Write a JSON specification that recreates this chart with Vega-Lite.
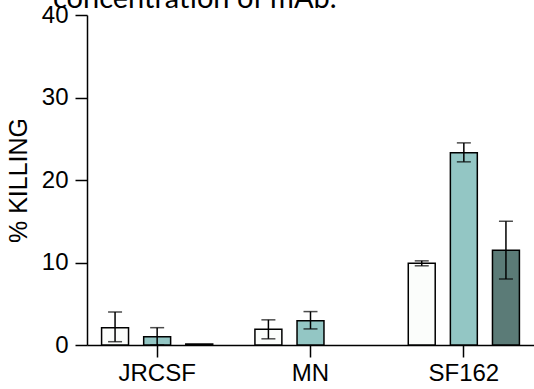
{
  "$schema": "https://vega.github.io/schema/vega-lite/v6.json",
  "autosize": {"type": "none"},
  "padding": {"left": 87, "top": 15, "right": 0, "bottom": 44},
  "width": 447,
  "height": 330,
  "background": "white",
  "title": {
    "text": "concentration of mAb.",
    "anchor": "start",
    "frame": "group",
    "font": "Lato",
    "fontSize": 29,
    "fontWeight": "normal",
    "color": "black",
    "baseline": "alphabetic",
    "offset": -25,
    "dx": -34,
    "dy": 9
  },
  "config": {
    "view": {"stroke": null},
    "axis": {
      "grid": false,
      "domainColor": "black",
      "tickColor": "black",
      "domainWidth": 1.5,
      "tickWidth": 1.5,
      "labelColor": "black",
      "titleColor": "black",
      "labelFont": "Liberation Sans",
      "titleFont": "Liberation Sans",
      "labelFontSize": 24,
      "titleFontSize": 25,
      "titleFontWeight": "normal"
    }
  },
  "data": {
    "values": [
      {"strain": "JRCSF", "conc": "c1", "value": 2.1, "lo": 0.4, "hi": 4.0},
      {"strain": "JRCSF", "conc": "c2", "value": 1.0, "lo": 0.0, "hi": 2.1},
      {"strain": "JRCSF", "conc": "c3", "value": 0.12, "lo": null, "hi": null},
      {"strain": "MN", "conc": "c1", "value": 1.9, "lo": 0.75, "hi": 3.05},
      {"strain": "MN", "conc": "c2", "value": 2.95, "lo": 1.95, "hi": 4.05},
      {"strain": "SF162", "conc": "c1", "value": 9.9, "lo": 9.6, "hi": 10.2},
      {"strain": "SF162", "conc": "c2", "value": 23.3, "lo": 22.2, "hi": 24.5},
      {"strain": "SF162", "conc": "c3", "value": 11.5, "lo": 8.0, "hi": 15.0}
    ]
  },
  "encoding": {
    "x": {
      "field": "strain",
      "type": "nominal",
      "sort": ["JRCSF", "MN", "SF162"],
      "scale": {"paddingInner": 0.2, "paddingOuter": 0.0575},
      "axis": {"title": null, "labelAngle": 0, "tickSize": 12, "labelPadding": 4, "domainWidth": 1.5}
    },
    "xOffset": {
      "field": "conc",
      "type": "nominal",
      "sort": ["c1", "c2", "c3"],
      "scale": {"paddingInner": 0.36, "paddingOuter": 0.137}
    }
  },
  "layer": [
    {
      "mark": {"type": "bar", "stroke": "black", "strokeWidth": 1.5},
      "encoding": {
        "y": {
          "field": "value",
          "type": "quantitative",
          "scale": {"domain": [0, 40], "nice": false},
          "axis": {"title": "% KILLING", "values": [0, 10, 20, 30, 40], "tickSize": 12, "labelPadding": 7, "titlePadding": 10}
        },
        "fill": {
          "field": "conc",
          "type": "nominal",
          "scale": {"domain": ["c1", "c2", "c3"], "range": ["#fbfdfb", "#93c6c4", "#5b7b77"]},
          "legend": null
        }
      }
    },
    {
      "mark": {"type": "rule", "color": "black", "strokeWidth": 1.5},
      "encoding": {
        "y": {"field": "lo", "type": "quantitative"},
        "y2": {"field": "hi"}
      }
    },
    {
      "mark": {"type": "tick", "color": "black", "thickness": 1.5, "size": 14, "orient": "horizontal"},
      "encoding": {"y": {"field": "lo", "type": "quantitative"}}
    },
    {
      "mark": {"type": "tick", "color": "black", "thickness": 1.5, "size": 14, "orient": "horizontal"},
      "encoding": {"y": {"field": "hi", "type": "quantitative"}}
    }
  ]
}
